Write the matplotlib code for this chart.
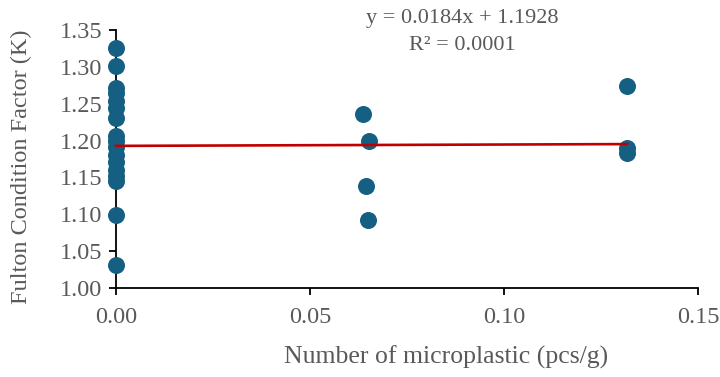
import matplotlib
matplotlib.use("Agg")
import matplotlib.pyplot as plt
import numpy as np

# Data
x_zero_k = [1.325, 1.301, 1.271, 1.265, 1.254, 1.244, 1.231, 1.206, 1.199,
            1.191, 1.180, 1.171, 1.160, 1.152, 1.145, 1.099, 1.031]
mid_x = [0.0637, 0.0652, 0.0644, 0.0649]
mid_k = [1.236, 1.199, 1.138, 1.092]
high_x = [0.1317, 0.1317, 0.1317]
high_k = [1.274, 1.190, 1.183]

slope = 0.0184
intercept = 1.1928
r2_text = "R² = 0.0001"

xs = [0.0] * len(x_zero_k) + mid_x + high_x
ys = x_zero_k + mid_k + high_k

plt.rcParams['font.family'] = ['Liberation Serif', 'DejaVu Serif']
gray = '#595959'

fig = plt.figure(figsize=(7.2, 3.77), dpi=100)
ax = fig.add_axes([116/720, 1-288/377, (698-116)/720, (288-30)/377])

ax.scatter(xs, ys, s=150, color='#156082', zorder=3, linewidths=0, clip_on=False)
lx = np.array([0.0, max(xs)])
ax.plot(lx, slope*lx + intercept, color='#C00000', lw=1.9, zorder=4, clip_on=False)

ax.set_xlim(0, 0.15)
ax.set_ylim(1.0, 1.35)
ax.set_xticks([0.0, 0.05, 0.10, 0.15])
ax.set_yticks(np.arange(1.0, 1.351, 0.05))
ax.xaxis.set_major_formatter(matplotlib.ticker.FormatStrFormatter('%.2f'))
ax.yaxis.set_major_formatter(matplotlib.ticker.FormatStrFormatter('%.2f'))
for s in ['top', 'right']:
    ax.spines[s].set_visible(False)
for s in ['left', 'bottom']:
    ax.spines[s].set_linewidth(1.3)
    ax.spines[s].set_color('black')
ax.tick_params(axis='both', direction='out', length=5, width=1.3, color='black',
               labelsize=17.5, labelcolor=gray, pad=5)
ax.tick_params(axis='x', pad=9)

ax.set_xlabel('Number of microplastic (pcs/g)', fontsize=18.5, color=gray)
ax.xaxis.label.set_verticalalignment('center')
ax.xaxis.set_label_coords(446/720, 1-357/377, transform=fig.transFigure)
ax.set_ylabel('Fulton Condition Factor (K)', fontsize=17.5, color=gray)
ax.yaxis.label.set_verticalalignment('center')
ax.yaxis.set_label_coords(21/720, 1-167/377, transform=fig.transFigure)

fig.text(462/720, 1-18/377, f"y = {slope}x + {intercept}", ha='center', va='center',
         fontsize=16, color=gray)
fig.text(462/720, 1-45/377, r2_text, ha='center', va='center', fontsize=16, color=gray)

fig.savefig('out.png', dpi=100)
